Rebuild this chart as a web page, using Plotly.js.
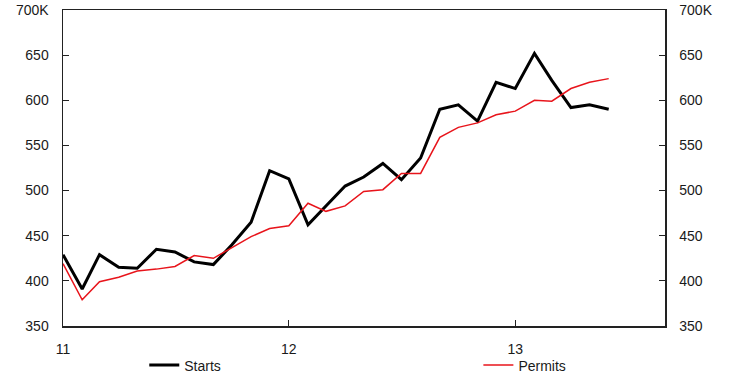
<!DOCTYPE html>
<html>
<head>
<meta charset="utf-8">
<script src="https://cdn.plot.ly/plotly-3.0.1.min.js"></script>
<style>
html,body{margin:0;padding:0;background:#fff;}
#chart{width:740px;height:389px;}
</style>
</head>
<body>
<div id="chart"></div>
<script>
var months = [
  '2011-01-01','2011-02-01','2011-03-01','2011-04-01','2011-05-01','2011-06-01',
  '2011-07-01','2011-08-01','2011-09-01','2011-10-01','2011-11-01','2011-12-01',
  '2012-01-01','2012-02-01','2012-03-01','2012-04-01','2012-05-01','2012-06-01',
  '2012-07-01','2012-08-01','2012-09-01','2012-10-01','2012-11-01','2012-12-01',
  '2013-01-01','2013-02-01','2013-03-01','2013-04-01','2013-05-01','2013-06-01'
];
var starts = [429, 391, 429, 415, 414, 435, 432, 421, 418, 440, 465, 522,
              513, 462, 483, 505, 515, 530, 512, 536, 590, 595, 577, 620,
              613, 652, 622, 592, 595, 590];
var permits = [419, 379, 399, 404, 411, 413, 416, 428, 425, 437, 449, 458,
               461, 486, 477, 483, 499, 501, 519, 519, 559, 570, 575, 584,
               588, 600, 599, 613, 620, 624];
var yTickVals = [350, 400, 450, 500, 550, 600, 650, 700];
var yTickText = ['350', '400', '450', '500', '550', '600', '650', '700K'];
var xTickVals = ['2011-01-01', '2012-01-01', '2013-01-01'];
var xTickText = ['11', '12', '13'];

var font = {family: 'Liberation Sans, Arial, sans-serif', size: 14, color: '#1a1a1a'};
var axisColor = '#222';

var traces = [
  {x: months, y: starts, name: 'Starts', type: 'scatter', mode: 'lines',
   line: {color: '#000000', width: 3}, legend: 'legend'},
  {x: months, y: permits, name: 'Permits', type: 'scatter', mode: 'lines', yaxis: 'y2',
   line: {color: '#e8141b', width: 1.5}, legend: 'legend2'}
];

var layout = {
  width: 740, height: 389,
  margin: {l: 63, r: 75, t: 10, b: 63, autoexpand: false},
  paper_bgcolor: '#ffffff', plot_bgcolor: '#ffffff',
  font: font,
  xaxis: {
    type: 'date', range: ['2011-01-01', '2013-08-31'],
    tickvals: xTickVals, ticktext: xTickText,
    ticks: 'inside', ticklen: 6, tickwidth: 1.2, tickcolor: axisColor,
    showline: true, linecolor: axisColor, linewidth: 1.5, mirror: true,
    showgrid: false, zeroline: false, tickfont: font, ticklabelstandoff: 10
  },
  yaxis: {
    range: [350, 700], tickvals: yTickVals, ticktext: yTickText,
    ticks: 'inside', ticklen: 6, tickwidth: 1.2, tickcolor: axisColor,
    showline: true, linecolor: axisColor, linewidth: 1.5, mirror: true,
    showgrid: false, zeroline: false, tickfont: font, ticklabelstandoff: 10
  },
  yaxis2: {
    range: [350, 700], tickvals: yTickVals, ticktext: yTickText,
    overlaying: 'y', side: 'right',
    ticks: 'inside', ticklen: 6, tickwidth: 1.2, tickcolor: axisColor,
    showline: true, linecolor: axisColor, linewidth: 1.5,
    showgrid: false, zeroline: false, tickfont: font, ticklabelstandoff: 10
  },
  legend: {
    x: 0.135, y: -0.125, xanchor: 'left', yanchor: 'middle',
    orientation: 'h', bgcolor: 'rgba(0,0,0,0)', font: font
  },
  legend2: {
    x: 0.69, y: -0.125, xanchor: 'left', yanchor: 'middle',
    orientation: 'h', bgcolor: 'rgba(0,0,0,0)', font: font
  },
  showlegend: true
};

Plotly.newPlot('chart', traces, layout, {displayModeBar: false, staticPlot: true});
</script>
</body>
</html>
